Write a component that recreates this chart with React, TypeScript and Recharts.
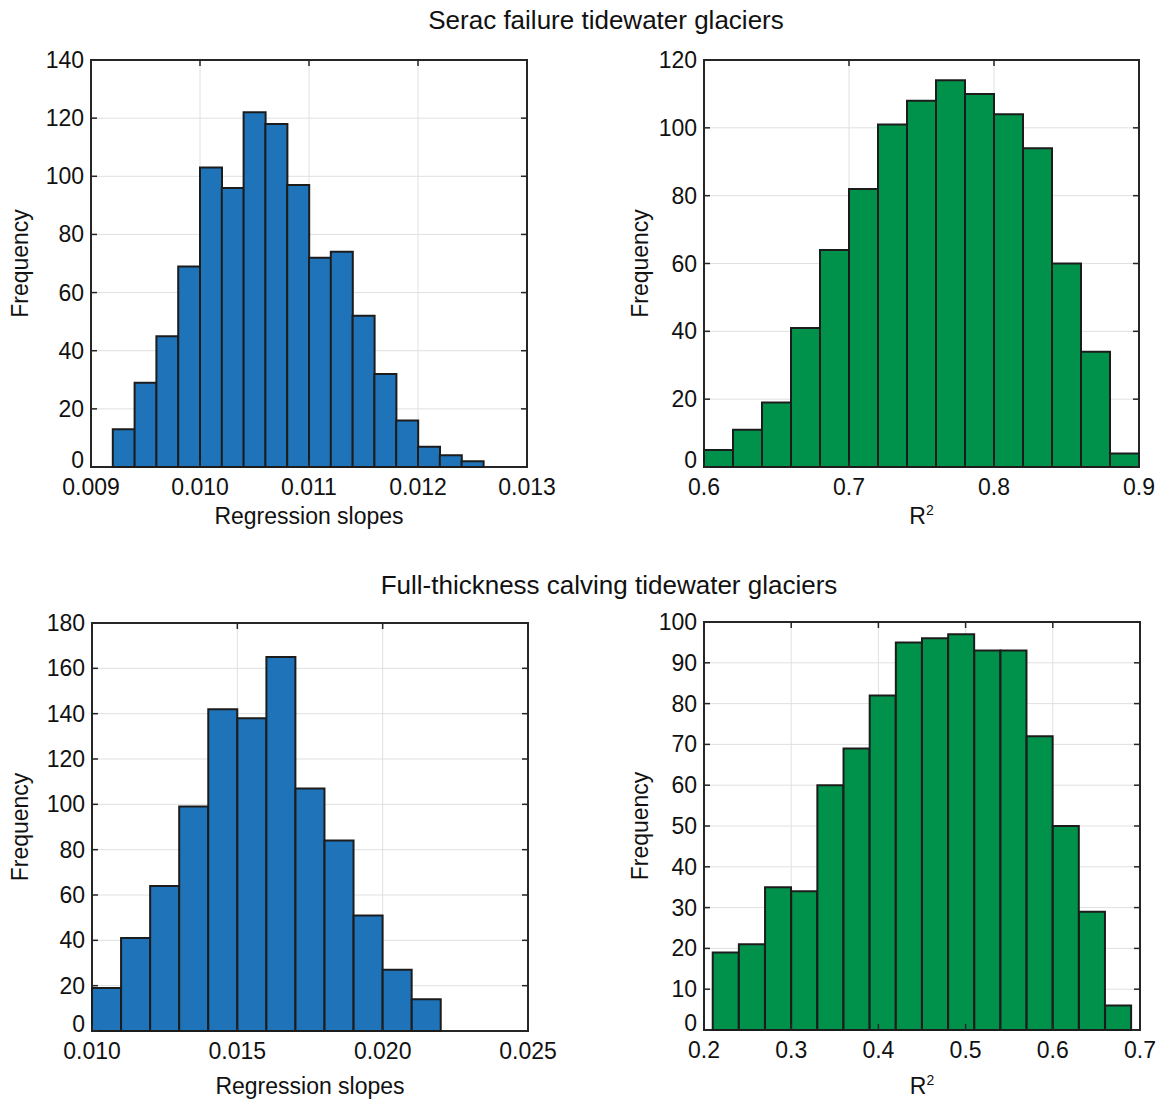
import { BarChart, Bar, XAxis, YAxis, CartesianGrid, ReferenceArea } from "recharts"

// Bootstrap histograms of glacier regression fits: two rows (serac failure,
// full-thickness calving), slopes on the left, R² on the right.

const FONT = '"Liberation Sans", Arial, Helvetica, sans-serif'
const INK = "#1c1c1c"
const FRAME = "#262626"
const GRID = "#e0e0e0"
const BLUE = "#1f73b9"
const GREEN = "#00924a"

// Serac failure -- regression slopes (bin centres, 0.0002 wide)
const seracSlopeBins = [
  0.0093, 0.0095, 0.0097, 0.0099, 0.0101, 0.0103, 0.0105, 0.0107, 0.0109,
  0.0111, 0.0113, 0.0115, 0.0117, 0.0119, 0.0121, 0.0123, 0.0125,
]
const seracSlopeCounts = [13, 29, 45, 69, 103, 96, 122, 118, 97, 72, 74, 52, 32, 16, 7, 4, 2]
const seracSlopeTicks = [0.009, 0.01, 0.011, 0.012, 0.013]
const seracSlopeFreqTicks = [0, 20, 40, 60, 80, 100, 120, 140]

// Serac failure -- R² (bin centres, 0.02 wide)
const seracR2Bins = [0.61, 0.63, 0.65, 0.67, 0.69, 0.71, 0.73, 0.75, 0.77, 0.79, 0.81, 0.83, 0.85, 0.87, 0.89]
const seracR2Counts = [5, 11, 19, 41, 64, 82, 101, 108, 114, 110, 104, 94, 60, 34, 4]
const seracR2Ticks = [0.6, 0.7, 0.8, 0.9]
const seracR2FreqTicks = [0, 20, 40, 60, 80, 100, 120]

// Full-thickness calving -- regression slopes (bin centres, 0.001 wide)
const fullSlopeBins = [0.0105, 0.0115, 0.0125, 0.0135, 0.0145, 0.0155, 0.0165, 0.0175, 0.0185, 0.0195, 0.0205, 0.0215]
const fullSlopeCounts = [19, 41, 64, 99, 142, 138, 165, 107, 84, 51, 27, 14]
const fullSlopeTicks = [0.01, 0.015, 0.02, 0.025]
const fullSlopeFreqTicks = [0, 20, 40, 60, 80, 100, 120, 140, 160, 180]

// Full-thickness calving -- R² (bin centres, 0.03 wide)
const fullR2Bins = [
  0.225, 0.255, 0.285, 0.315, 0.345, 0.375, 0.405, 0.435, 0.465, 0.495, 0.525,
  0.555, 0.585, 0.615, 0.645, 0.675,
]
const fullR2Counts = [19, 21, 35, 34, 60, 69, 82, 95, 96, 97, 93, 93, 72, 50, 29, 6]
const fullR2Ticks = [0.2, 0.3, 0.4, 0.5, 0.6, 0.7]
const fullR2FreqTicks = [0, 10, 20, 30, 40, 50, 60, 70, 80, 90, 100]

type Margin = { top: number; right: number; bottom: number; left: number }

type HistProps = {
  bins: number[]
  counts: number[]
  xTicks: number[]
  yTicks: number[]
  digits: number
  fill: string
  xLabel: "slopes" | "r2"
  left: number
  top: number
  width: number
  height: number
  margin: Margin
  yLabelGap: number
  xLabelBase: number
}

const TICK_LEN = 6
// axes get a 1px band (a zero-sized axis is not drawn at all)
const AXIS_BAND = 1

function AxisTitle({ kind, x, y }: { kind: "slopes" | "r2"; x: number; y: number }) {
  if (kind === "slopes") {
    return (
      <text x={x} y={y} textAnchor="middle" fontSize={23} fill="#111" fontFamily={FONT}>
        Regression slopes
      </text>
    )
  }
  return (
    <text x={x} y={y} textAnchor="middle" fontSize={23} fill="#111" fontFamily={FONT}>
      R<tspan fontSize={14} dy={-9}>2</tspan>
    </text>
  )
}

function Histogram(p: HistProps) {
  const data = p.bins.map((x, i) => ({ x, count: p.counts[i] }))
  const xDomain = [p.xTicks[0], p.xTicks[p.xTicks.length - 1]]
  const yDomain = [p.yTicks[0], p.yTicks[p.yTicks.length - 1]]
  const margin = {
    top: p.margin.top,
    right: p.margin.right,
    bottom: p.margin.bottom - AXIS_BAND,
    left: p.margin.left - AXIS_BAND,
  }
  const plotW = p.width - p.margin.left - p.margin.right
  const plotH = p.height - p.margin.top - p.margin.bottom

  const xTick = (t: any) => {
    const { x, y, payload } = t
    return (
      <g>
        <line x1={x} x2={x} y1={y} y2={y - TICK_LEN} stroke={FRAME} strokeWidth={1.5} />
        <line x1={x} x2={x} y1={y - plotH} y2={y - plotH + TICK_LEN} stroke={FRAME} strokeWidth={1.5} />
        <text x={x} y={y + 28} textAnchor="middle" fontSize={23} fill="#111" fontFamily={FONT}>
          {Number(payload.value).toFixed(p.digits)}
        </text>
      </g>
    )
  }

  const yTick = (t: any) => {
    const { x, y, payload } = t
    // the zero label sits higher so it clears the x tick labels below it
    const base = payload.value === yDomain[0] ? y + 1 : y + 8
    return (
      <g>
        <line x1={x} x2={x + TICK_LEN} y1={y} y2={y} stroke={FRAME} strokeWidth={1.5} />
        <line x1={x + plotW} x2={x + plotW - TICK_LEN} y1={y} y2={y} stroke={FRAME} strokeWidth={1.5} />
        <text x={x - 7} y={base} textAnchor="end" fontSize={23} fill="#111" fontFamily={FONT}>
          {payload.value}
        </text>
      </g>
    )
  }

  return (
    <div style={{ position: "absolute", left: p.left, top: p.top }}>
      <BarChart width={p.width} height={p.height} data={data} margin={margin} barCategoryGap={0} barGap={0}>
        <CartesianGrid stroke={GRID} strokeWidth={1} />
        <XAxis
          dataKey="x"
          type="number"
          domain={xDomain}
          ticks={p.xTicks}
          interval={0}
          height={AXIS_BAND}
          tickSize={0}
          tickMargin={0}
          axisLine={false}
          tickLine={false}
          tick={xTick}
          label={{
            content: ({ viewBox }: any) => (
              <AxisTitle kind={p.xLabel} x={viewBox.x + viewBox.width / 2} y={viewBox.y + p.xLabelBase} />
            ),
          }}
        />
        <YAxis
          type="number"
          domain={yDomain}
          ticks={p.yTicks}
          interval={0}
          width={AXIS_BAND}
          tickSize={0}
          tickMargin={0}
          axisLine={false}
          tickLine={false}
          tick={yTick}
          label={{
            content: ({ viewBox }: any) => {
              const cx = viewBox.x + viewBox.width - p.yLabelGap
              const cy = viewBox.y + viewBox.height / 2
              return (
                <text
                  x={cx}
                  y={cy}
                  transform={`rotate(-90 ${cx} ${cy})`}
                  textAnchor="middle"
                  dominantBaseline="central"
                  fontSize={23}
                  fill="#111"
                  fontFamily={FONT}
                >
                  Frequency
                </text>
              )
            },
          }}
        />
        <Bar dataKey="count" fill={p.fill} stroke={INK} strokeWidth={2} isAnimationActive={false} />
        <ReferenceArea
          x1={xDomain[0]}
          x2={xDomain[1]}
          y1={yDomain[0]}
          y2={yDomain[1]}
          fill="none"
          fillOpacity={0}
          stroke={FRAME}
          strokeWidth={2}
          ifOverflow="visible"
        />
      </BarChart>
    </div>
  )
}

export default function App() {
  return (
    <div
      style={{
        position: "absolute",
        left: 0,
        top: 0,
        width: 1165,
        height: 1101,
        background: "#fff",
        fontFamily: FONT,
        overflow: "hidden",
      }}
    >
      <Histogram
        bins={seracSlopeBins}
        counts={seracSlopeCounts}
        xTicks={seracSlopeTicks}
        yTicks={seracSlopeFreqTicks}
        digits={3}
        fill={BLUE}
        xLabel="slopes"
        left={0}
        top={0}
        width={580}
        height={545}
        margin={{ top: 60, left: 91, right: 53, bottom: 78 }}
        yLabelGap={71}
        xLabelBase={57}
      />
      <Histogram
        bins={seracR2Bins}
        counts={seracR2Counts}
        xTicks={seracR2Ticks}
        yTicks={seracR2FreqTicks}
        digits={1}
        fill={GREEN}
        xLabel="r2"
        left={600}
        top={0}
        width={565}
        height={545}
        margin={{ top: 60, left: 104, right: 26, bottom: 78 }}
        yLabelGap={64}
        xLabelBase={57}
      />
      <Histogram
        bins={fullSlopeBins}
        counts={fullSlopeCounts}
        xTicks={fullSlopeTicks}
        yTicks={fullSlopeFreqTicks}
        digits={3}
        fill={BLUE}
        xLabel="slopes"
        left={0}
        top={550}
        width={580}
        height={551}
        margin={{ top: 73, left: 92, right: 52, bottom: 70 }}
        yLabelGap={72}
        xLabelBase={63}
      />
      <Histogram
        bins={fullR2Bins}
        counts={fullR2Counts}
        xTicks={fullR2Ticks}
        yTicks={fullR2FreqTicks}
        digits={1}
        fill={GREEN}
        xLabel="r2"
        left={600}
        top={550}
        width={565}
        height={551}
        margin={{ top: 72, left: 104, right: 25, bottom: 71 }}
        yLabelGap={64}
        xLabelBase={64}
      />
      <svg
        width={1165}
        height={1101}
        style={{ position: "absolute", left: 0, top: 0, pointerEvents: "none" }}
      >
        <text x={606} y={29} textAnchor="middle" fontSize={26} fill="#111" fontFamily={FONT}>
          Serac failure tidewater glaciers
        </text>
        <text x={609} y={594} textAnchor="middle" fontSize={26} fill="#111" fontFamily={FONT}>
          Full-thickness calving tidewater glaciers
        </text>
      </svg>
    </div>
  )
}
